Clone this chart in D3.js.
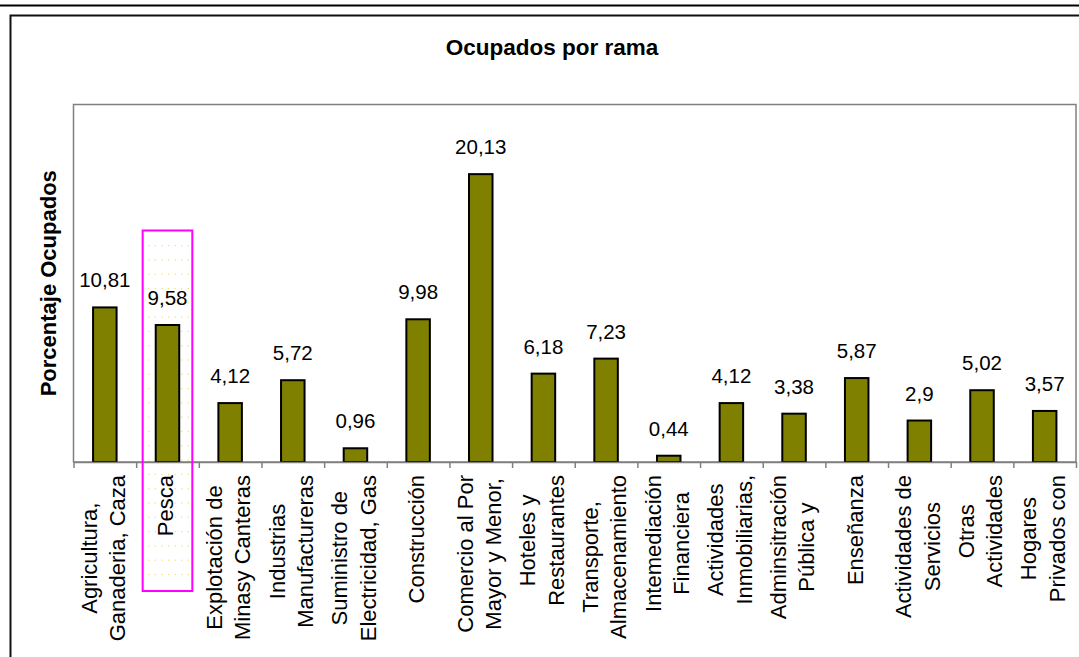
<!DOCTYPE html>
<html>
<head>
<meta charset="utf-8">
<script src="https://cdn.jsdelivr.net/npm/d3@7"></script>
<style>
  html, body { margin: 0; padding: 0; background: #ffffff; }
  svg { display: block; font-family: "Liberation Sans", Arial, sans-serif; }
</style>
</head>
<body>
<svg id="chart" width="1079" height="657"></svg>
<script>
// ---- data ----
const categories = [
  ["Agricultura,", "Ganaderia, Caza"],
  ["Pesca"],
  ["Explotación de", "Minasy Canteras"],
  ["Industrias", "Manufactureras"],
  ["Suministro de", "Electricidad, Gas"],
  ["Construcción"],
  ["Comercio al Por", "Mayor y Menor,"],
  ["Hoteles y", "Restaurantes"],
  ["Transporte,", "Almacenamiento"],
  ["Intemediación", "Financiera"],
  ["Actividades", "Inmobiliarias,"],
  ["Adminsitración", "Pública y"],
  ["Enseñanza"],
  ["Actividades de", "Servicios"],
  ["Otras", "Actividades"],
  ["Hogares", "Privados con"]
];
const values = [10.81, 9.58, 4.12, 5.72, 0.96, 9.98, 20.13, 6.18, 7.23, 0.44, 4.12, 3.38, 5.87, 2.9, 5.02, 3.57];
const yDomain = [0, 25];
const title = "Ocupados por rama";
const yTitle = "Porcentaje Ocupados";
const highlightIndex = 1;

// ---- layout ----
const W = 1079, H = 657;
const plot = { left: 73.5, top: 104.5, right: 1076, bottom: 462 };
const svg = d3.select("#chart");

const x = d3.scaleBand().domain(d3.range(categories.length)).range([plot.left, plot.right]).padding(0);
const xEdges = d3.scaleLinear().domain([0, categories.length]).range([plot.left, plot.right]);
const y = d3.scaleLinear().domain(yDomain).range([plot.bottom, plot.top]);

// page frame lines
svg.append("line").attr("x1", 0).attr("x2", W).attr("y1", 5.5).attr("y2", 5.5)
  .attr("stroke", "#000").attr("stroke-width", 2);
svg.append("path").attr("d", `M10.5,${H} L10.5,15.5 L${W},15.5`)
  .attr("fill", "none").attr("stroke", "#111").attr("stroke-width", 2);

// plot area border
svg.append("rect")
  .attr("x", plot.left).attr("y", plot.top)
  .attr("width", plot.right - plot.left).attr("height", plot.bottom - plot.top)
  .attr("fill", "#fff").attr("stroke", "#808080").attr("stroke-width", 1.5);

// title
svg.append("text").attr("x", 552).attr("y", 55).attr("text-anchor", "middle")
  .attr("font-size", 22.5).attr("font-weight", "bold").attr("fill", "#000").text(title);

// y title
svg.append("text").attr("transform", `translate(56,${(plot.top + plot.bottom) / 2}) rotate(-90)`)
  .attr("text-anchor", "middle").attr("font-size", 22).attr("font-weight", "bold")
  .attr("fill", "#000").text(yTitle);

// highlight box (dotted) around one category
const hx0 = x(highlightIndex) + 6.5, hx1 = x(highlightIndex) + x.bandwidth() - 6.5;
const hy0 = 230.5, hy1 = 591;
const dots = svg.append("g");
for (let yy = hy0 + 14.5; yy < hy1 - 4; yy += 14.3) {
  for (let xx = hx0 + 5.5; xx < hx1 - 3; xx += 6.6) {
    dots.append("rect").attr("x", xx).attr("y", yy).attr("width", 1.2).attr("height", 1.2)
      .attr("fill", "#f3d25a").attr("opacity", 0.8);
  }
}

// bars
const barW = 23.5;
svg.append("g").selectAll("rect").data(values).join("rect")
  .attr("x", (d, i) => x(i) + x.bandwidth() / 2 - barW / 2)
  .attr("y", d => y(d))
  .attr("width", barW)
  .attr("height", d => y(0) - y(d))
  .attr("fill", "#808000").attr("stroke", "#000").attr("stroke-width", 2);

// value labels
svg.append("g").selectAll("text").data(values).join("text")
  .attr("x", (d, i) => x(i) + x.bandwidth() / 2)
  .attr("y", d => y(d) - 20)
  .attr("text-anchor", "middle").attr("font-size", 20.5).attr("fill", "#000")
  .text(d => String(d).replace(".", ","));

// x axis
const axis = d3.axisBottom(xEdges).tickValues(d3.range(categories.length + 1))
  .tickFormat("").tickSizeInner(6).tickSizeOuter(0);
const ax = svg.append("g").attr("transform", `translate(0,${plot.bottom})`).call(axis);
ax.select(".domain").attr("stroke", "#808080").attr("stroke-width", 1.5);
ax.selectAll(".tick line").attr("stroke", "#808080").attr("stroke-width", 1.5);

// category labels (rotated, wrapped, centered lines, top-anchored)
const labelTop = 475, lineGap = 28.4, fs = 22;
categories.forEach((lines, i) => {
  const cx = x(i) + x.bandwidth() / 2;
  const g = svg.append("g").attr("transform", `translate(${cx},${labelTop}) rotate(-90)`);
  const texts = lines.map((t, k) => g.append("text")
    .attr("font-size", fs).attr("fill", "#000").attr("text-anchor", "middle")
    .attr("y", 6 + (k - (lines.length - 1) / 2) * lineGap).text(t));
  const maxLen = d3.max(texts, t => t.node().getComputedTextLength());
  texts.forEach(t => t.attr("x", -maxLen / 2));
});

// highlight box outline
svg.append("rect").attr("x", hx0).attr("y", hy0).attr("width", hx1 - hx0).attr("height", hy1 - hy0)
  .attr("fill", "none").attr("stroke", "#ff00ff").attr("stroke-width", 2);
</script>
</body>
</html>
